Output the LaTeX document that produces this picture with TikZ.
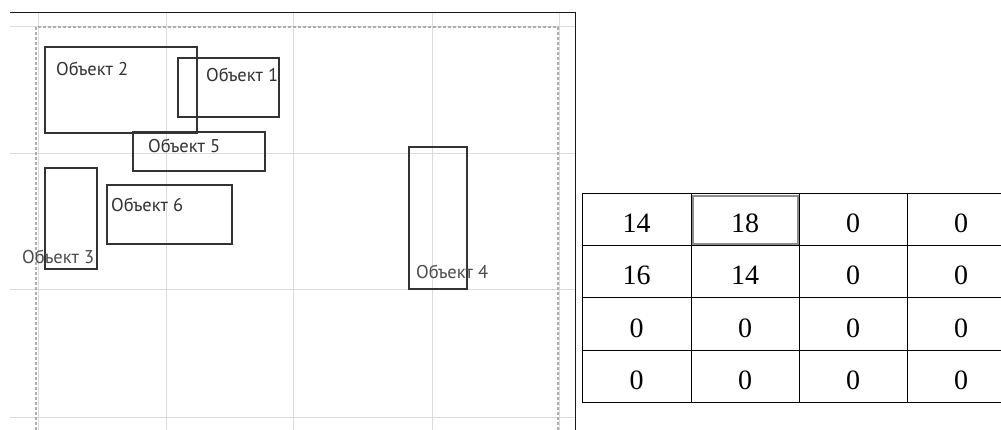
\documentclass[tikz,border=0pt]{standalone}
\usepackage{fontspec}
\setmainfont{Liberation Serif}
\newfontfamily\labfont{PT Sans}
\begin{document}
\begin{tikzpicture}[x=1pt,y=-1pt,
 gridline/.style={draw=black!14, line width=1pt},
 guide/.style={draw=black!32, line width=1.1pt, dash pattern=on 3pt off 2pt},
 frameline/.style={draw=black!90, line width=1pt},
 obj/.style={draw=black!80, line width=1.2pt},
 lab/.style={font=\labfont\fontsize{18.5}{22}\selectfont, text=black!80, anchor=base west, inner sep=0pt},
 num/.style={font=\fontsize{28}{30}\selectfont, anchor=base, inner sep=0pt},
 cellline/.style={draw=black, line width=1pt},
 selcell/.style={draw=black!45, line width=2pt}]
\useasboundingbox (0,0) rectangle (1001,430);
\fill[white] (0,0) rectangle (1001,430);
% light grid
\foreach \gx in {38,166,293,432,559} \draw[gridline] (\gx,13) -- (\gx,430);
\foreach \gy in {27,154,290,417} \draw[gridline] (10,\gy) -- (575,\gy);
% dashed guides
\draw[guide] (36,430) -- (36,27) -- (558,27) -- (558,430);
% frame
\draw[frameline] (10,13) -- (575,13) -- (575,430);
% objects
\draw[obj] (45,47) rectangle (197,133);
\draw[obj] (178,58) rectangle (279,117);
\draw[obj] (133,132) rectangle (265,171);
\draw[obj] (45,168) rectangle (97,269);
\draw[obj] (107,185) rectangle (232,244);
\draw[obj] (409,147) rectangle (467,289);
\node[lab] (l2) at (56,76) {Объект 2};
\node[lab] (l1) at (206,82) {Объект 1};
\node[lab] (l5) at (148,153) {Объект 5};
\node[lab] (l6) at (111,212) {Объект 6};
\node[lab, text=black!70] (l3) at (22,264) {Объект 3};
\node[lab, text=black!70] (l4) at (416,279) {Объект 4};
% table
\begin{scope}
\clip (576,0) rectangle (1001,430);
\foreach \tx in {582,691,799,907} \draw[cellline] (\tx,194) -- (\tx,402);
\foreach \ty in {194,246,298,350,402} \draw[cellline] (582,\ty) -- (1015,\ty);
\draw[selcell] (693,196.5) rectangle (797.5,244.5);
\foreach \r/\a/\b/\c/\d [count=\i] in {0/14/18/0/0,1/16/14/0/0,2/0/0/0/0,3/0/0/0/0}{
  \node[num] (n\i a) at (636.5,233+52*\r) {\a};
  \node[num] (n\i b) at (745,233+52*\r) {\b};
  \node[num] (n\i c) at (853,233+52*\r) {\c};
  \node[num] (n\i d) at (961,233+52*\r) {\d};
}
\end{scope}
\end{tikzpicture}
\end{document}
